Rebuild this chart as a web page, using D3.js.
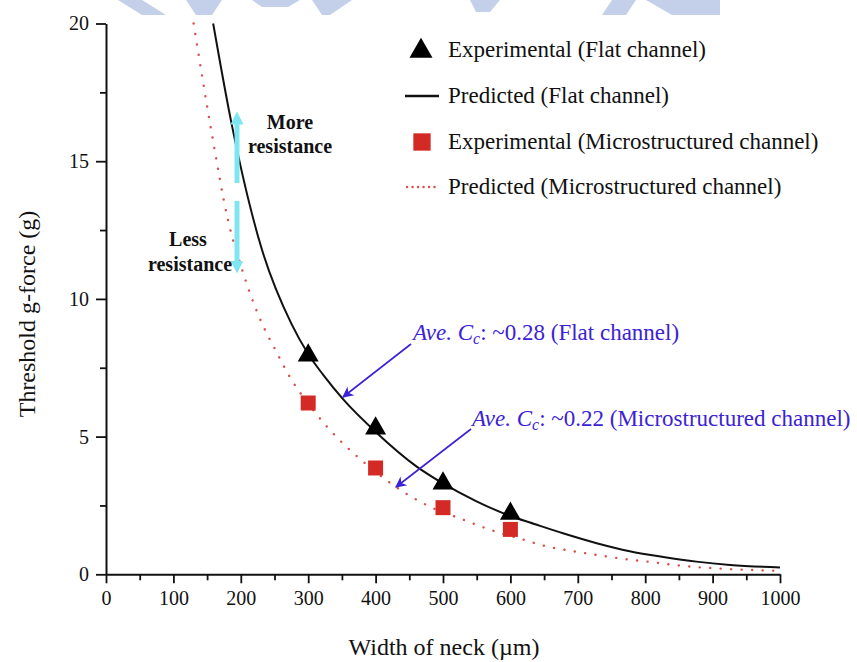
<!DOCTYPE html>
<html>
<head>
<meta charset="utf-8">
<script src="https://cdn.jsdelivr.net/npm/d3@7"></script>
<style>
  body { margin: 0; background: #fff; }
  svg { display: block; font-family: "Liberation Serif", "Times New Roman", serif; }
</style>
</head>
<body>
<svg id="chart" width="857" height="662"></svg>
<script>
// values
const neckWidths = [300, 400, 500, 600];
const flatExperimental = [7.95, 5.3, 3.3, 2.2];
const microExperimental = [6.22, 3.86, 2.42, 1.63];

// predicted curves, sampled by eye along each line: [width, g]
const flatPredicted = [
  [159, 20], [186, 16.4], [230, 11.9], [275, 9.1], [300, 8.0], [322, 7.25],
  [352, 6.35], [401, 5.15], [461, 3.91], [500, 3.3], [549, 2.66], [604, 2.08],
  [629, 1.88], [678, 1.49], [728, 1.13], [777, 0.84], [827, 0.63], [876, 0.46],
  [926, 0.34], [1000, 0.25]
];
const microPredicted = [
  [130, 20], [157, 16.0], [181, 12.86], [203, 10.98], [228, 9.3], [254, 8.02],
  [272, 7.2], [308, 5.95], [400, 3.72], [446, 2.92], [481, 2.45], [525, 2.03],
  [572, 1.6], [619, 1.26], [651, 1.03], [683, 0.88], [713, 0.76], [745, 0.64],
  [777, 0.53], [807, 0.45], [839, 0.35], [871, 0.27], [901, 0.22], [933, 0.18],
  [965, 0.15], [997, 0.13]
];

const xMajorTicks = [0, 100, 200, 300, 400, 500, 600, 700, 800, 900, 1000];
const xMinorTicks = [50, 150, 250, 350, 450, 550, 650, 750, 850, 950];
const yMajorTicks = [0, 5, 10, 15, 20];
const yMinorTicks = [2.5, 7.5, 12.5, 17.5];

const legendItems = [
  { label: 'Experimental (Flat channel)', type: 'triangle' },
  { label: 'Predicted (Flat channel)', type: 'line' },
  { label: 'Experimental (Microstructured channel)', type: 'square' },
  { label: 'Predicted (Microstructured channel)', type: 'dots' }
];

const RED = '#d42a26';
const DOT_RED = '#d9504c';
const BLUE = '#3b22d6';
const CYAN = '#7ee6f0';

const svg = d3.select('#chart');

const x = d3.scaleLinear().domain([0, 1000]).range([106, 780]);
const y = d3.scaleLinear().domain([0, 20]).range([574.3, 23.5]);

// faint watermark pieces cut off at the top edge
const watermark = [
  [[118, 0], [142, 0], [166, 15], [142, 15]],
  [[186, 0], [222, 0], [212, 15], [196, 15]],
  [[252, 0], [300, 0], [288, 7], [262, 7]],
  [[312, 0], [352, 0], [330, 15], [322, 15]],
  [[470, 0], [500, 0], [490, 12], [476, 12]],
  [[612, 0], [636, 0], [626, 15], [602, 15]],
  [[646, 0], [720, 0], [720, 15], [672, 15]]
];
svg.append('g').selectAll('polygon')
  .data(watermark)
  .join('polygon')
  .attr('points', d => d.map(p => p.join(',')).join(' '))
  .attr('fill', '#c4d0ea');

// axes
svg.append('g').attr('transform', `translate(0,${y(0)})`)
  .call(d3.axisBottom(x).tickValues(xMajorTicks).tickFormat(d3.format('d'))
    .tickSize(9).tickSizeOuter(0).tickPadding(8));
svg.append('g').attr('transform', `translate(0,${y(0)})`)
  .call(d3.axisBottom(x).tickValues(xMinorTicks).tickSize(6).tickFormat(''))
  .select('.domain').remove();

svg.append('g').attr('transform', `translate(${x(0)},0)`)
  .call(d3.axisLeft(y).tickValues(yMajorTicks).tickSize(10).tickSizeOuter(0).tickPadding(7));
svg.append('g').attr('transform', `translate(${x(0)},0)`)
  .call(d3.axisLeft(y).tickValues(yMinorTicks).tickSize(6).tickFormat(''))
  .select('.domain').remove();

svg.selectAll('.domain').attr('stroke', '#111').attr('stroke-width', 2);
svg.selectAll('.tick line').attr('stroke', '#111').attr('stroke-width', 1.8);
svg.selectAll('.tick text')
  .attr('fill', '#111')
  .style('font-family', '"Liberation Serif", "Times New Roman", serif')
  .style('font-size', '20px');

// axis titles
svg.append('text')
  .attr('x', 444).attr('y', 655)
  .attr('text-anchor', 'middle')
  .style('font-size', '24px').attr('fill', '#111')
  .text('Width of neck (\u00b5m)');

svg.append('text')
  .attr('transform', 'translate(35,314) rotate(-90)')
  .attr('text-anchor', 'middle')
  .style('font-size', '24px').attr('fill', '#111')
  .text('Threshold g-force (g)');

// predicted curves
const line = d3.line()
  .x(d => x(d[0]))
  .y(d => y(d[1]))
  .curve(d3.curveMonotoneX);

svg.append('path')
  .datum(microPredicted)
  .attr('d', line)
  .attr('fill', 'none')
  .attr('stroke', DOT_RED)
  .attr('stroke-width', 2.4)
  .attr('stroke-linecap', 'round')
  .attr('stroke-dasharray', '0.1 10.4');

svg.append('path')
  .datum(flatPredicted)
  .attr('d', line)
  .attr('fill', 'none')
  .attr('stroke', '#111')
  .attr('stroke-width', 2);

// experimental points
const triangle = d3.symbol().type(d3.symbolTriangle).size(190);
const square = d3.symbol().type(d3.symbolSquare).size(225);

svg.append('g').selectAll('path')
  .data(neckWidths)
  .join('path')
  .attr('transform', (d, i) => `translate(${x(d)},${y(microExperimental[i])})`)
  .attr('d', square)
  .attr('fill', RED);

svg.append('g').selectAll('path')
  .data(neckWidths)
  .join('path')
  .attr('transform', (d, i) => `translate(${x(d)},${y(flatExperimental[i])})`)
  .attr('d', triangle)
  .attr('fill', '#000');

// legend
const legendRows = [57, 103, 149, 194];
const legend = svg.append('g');
legendItems.forEach((item, i) => {
  const cy = legendRows[i] - 7;
  if (item.type === 'triangle') {
    legend.append('path')
      .attr('transform', `translate(421,${cy + 1})`)
      .attr('d', d3.symbol().type(d3.symbolTriangle).size(230))
      .attr('fill', '#000');
  } else if (item.type === 'square') {
    legend.append('path')
      .attr('transform', `translate(422,${cy})`)
      .attr('d', d3.symbol().type(d3.symbolSquare).size(300))
      .attr('fill', RED);
  } else if (item.type === 'line') {
    legend.append('line')
      .attr('x1', 405).attr('x2', 439).attr('y1', cy).attr('y2', cy)
      .attr('stroke', '#111').attr('stroke-width', 2.4);
  } else {
    legend.append('line')
      .attr('x1', 407).attr('x2', 440).attr('y1', cy).attr('y2', cy)
      .attr('stroke', DOT_RED).attr('stroke-width', 2.4)
      .attr('stroke-linecap', 'round').attr('stroke-dasharray', '0.1 5.4');
  }
  legend.append('text')
    .attr('x', 448).attr('y', legendRows[i])
    .style('font-size', '23px').attr('fill', '#111')
    .text(item.label);
});

// cyan resistance arrows
const defs = svg.append('defs');
defs.append('marker')
  .attr('id', 'cyanHead')
  .attr('viewBox', '0 0 10 10')
  .attr('refX', 5).attr('refY', 5)
  .attr('markerWidth', 2.6).attr('markerHeight', 2.6)
  .attr('markerUnits', 'strokeWidth')
  .attr('orient', 'auto')
  .append('path').attr('d', 'M0,0 L10,5 L0,10 Z').attr('fill', CYAN);
defs.append('marker')
  .attr('id', 'blueHead')
  .attr('viewBox', '0 0 10 10')
  .attr('refX', 9).attr('refY', 5)
  .attr('markerWidth', 8).attr('markerHeight', 7)
  .attr('markerUnits', 'strokeWidth')
  .attr('orient', 'auto')
  .append('path').attr('d', 'M0,0 L10,5 L0,10 L3,5 Z').attr('fill', BLUE);

[[183, 118], [201, 267]].forEach(([y1, y2]) => {
  svg.append('line')
    .attr('x1', 237).attr('x2', 237).attr('y1', y1).attr('y2', y2)
    .attr('stroke', CYAN).attr('stroke-width', 5)
    .attr('marker-end', 'url(#cyanHead)');
});

const boldLabels = [
  { text: 'More', x: 290, y: 129 },
  { text: 'resistance', x: 290, y: 153 },
  { text: 'Less', x: 188, y: 246 },
  { text: 'resistance', x: 190, y: 271 }
];
svg.append('g').selectAll('text')
  .data(boldLabels)
  .join('text')
  .attr('x', d => d.x).attr('y', d => d.y)
  .attr('text-anchor', 'middle')
  .style('font-size', '20px').style('font-weight', 'bold')
  .attr('fill', '#111')
  .text(d => d.text);

// blue Cc annotations
const notes = [
  { value: '0.28', channel: 'Flat channel', tx: 413, ty: 340, from: [411, 344], to: [343, 397] },
  { value: '0.22', channel: 'Microstructured channel', tx: 472, ty: 426, from: [471, 429], to: [396, 487] }
];
notes.forEach(n => {
  svg.append('line')
    .attr('x1', n.from[0]).attr('y1', n.from[1])
    .attr('x2', n.to[0]).attr('y2', n.to[1])
    .attr('stroke', BLUE).attr('stroke-width', 1.6)
    .attr('marker-end', 'url(#blueHead)');
  const t = svg.append('text')
    .attr('x', n.tx).attr('y', n.ty)
    .style('font-size', '23px').attr('fill', BLUE);
  t.append('tspan').style('font-style', 'italic').text('Ave. C');
  t.append('tspan').style('font-style', 'italic').style('font-size', '16px').attr('dy', 4).text('c');
  t.append('tspan').attr('dy', -4).text(`: ~${n.value} (${n.channel})`);
});
</script>
</body>
</html>
